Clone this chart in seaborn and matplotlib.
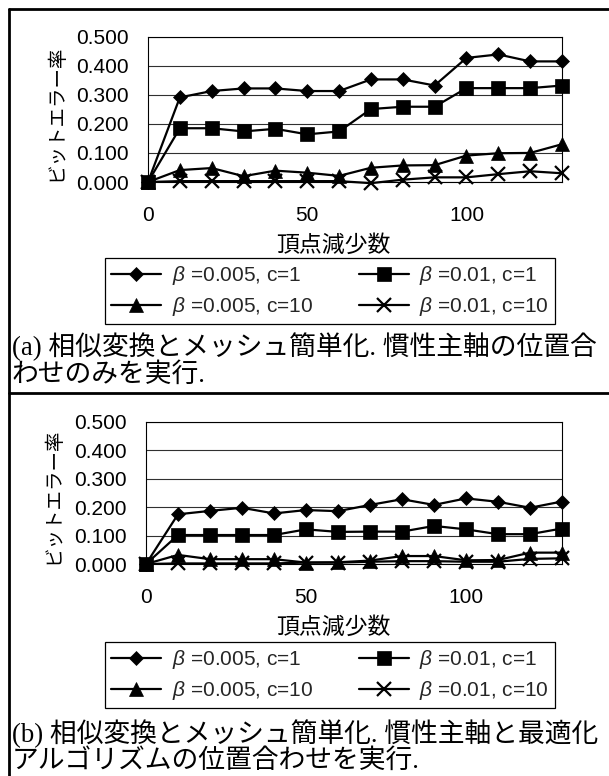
import matplotlib
matplotlib.use("Agg")
import matplotlib.pyplot as plt
import seaborn as sns
import pandas as pd
from matplotlib.lines import Line2D

# Number of removed vertices (x axis)
vertex_reduction = [0, 10, 20, 30, 40, 50, 60, 70, 80, 90, 100, 110, 120, 130]

series_labels = [r"$\beta$ =0.005, c=1", r"$\beta$ =0.01, c=1",
                 r"$\beta$ =0.005, c=10", r"$\beta$ =0.01, c=10"]
series_markers = ["D", "s", "^", "x"]

# (a) principal-axis alignment only
ber_a_b0005_c1 = [0.000, 0.291, 0.313, 0.322, 0.322, 0.313, 0.313, 0.353, 0.353, 0.332, 0.427, 0.439, 0.415, 0.415]
ber_a_b001_c1 = [0.000, 0.185, 0.185, 0.174, 0.183, 0.164, 0.174, 0.251, 0.259, 0.259, 0.323, 0.323, 0.323, 0.332]
ber_a_b0005_c10 = [0.000, 0.041, 0.048, 0.020, 0.039, 0.032, 0.021, 0.049, 0.057, 0.058, 0.091, 0.099, 0.100, 0.130]
ber_a_b001_c10 = [0.000, 0.003, 0.003, 0.003, 0.003, 0.003, 0.003, -0.004, 0.008, 0.016, 0.016, 0.027, 0.037, 0.030]

# (b) principal-axis + optimisation alignment
ber_b_b0005_c1 = [0.000, 0.175, 0.187, 0.198, 0.178, 0.190, 0.186, 0.208, 0.228, 0.208, 0.231, 0.219, 0.198, 0.220]
ber_b_b001_c1 = [0.000, 0.102, 0.102, 0.102, 0.102, 0.122, 0.113, 0.114, 0.114, 0.134, 0.122, 0.105, 0.105, 0.125]
ber_b_b0005_c10 = [0.000, 0.032, 0.017, 0.017, 0.017, 0.005, 0.006, 0.012, 0.028, 0.028, 0.013, 0.014, 0.040, 0.040]
ber_b_b001_c10 = [0.000, 0.002, 0.002, 0.002, 0.002, 0.005, 0.005, 0.008, 0.010, 0.010, 0.008, 0.008, 0.018, 0.020]

y_ticks = [0.0, 0.1, 0.2, 0.3, 0.4, 0.5]
y_tick_labels = ["0.000", "0.100", "0.200", "0.300", "0.400", "0.500"]
x_ticks = [0, 50, 100]
x_tick_labels = ["0", "50", "100"]

y_label = "ビットエラー率"
x_label = "頂点減少数"
caption_a = ["(a) 相似変換とメッシュ簡単化. 慣性主軸の位置合", "わせのみを実行."]
caption_b = ["(b) 相似変換とメッシュ簡単化. 慣性主軸と最適化", "アルゴリズムの位置合わせを実行."]

sns.set_theme(style="white")
plt.rcParams["font.family"] = ["Liberation Sans", "Noto Sans CJK JP"]
plt.rcParams["mathtext.fontset"] = "custom"
plt.rcParams["mathtext.it"] = "Liberation Sans:italic"

W, H = 609, 776
fig = plt.figure(figsize=(W / 100, H / 100), dpi=100)

marker_sizes = {"D": 7.5, "s": 10.0, "^": 10.5, "x": 9.5}


def fx(px):
    return px / W


def fy(py):
    return 1 - py / H


def draw_panel(left, right, top, bottom, series, xlabel_top, legend_y, caption, cap_y):
    ax = fig.add_axes([fx(left), fy(bottom), fx(right - left), fy(top) - fy(bottom)])
    handles = []
    for values, marker, label in zip(series, series_markers, series_labels):
        df = pd.DataFrame({"x": vertex_reduction, "y": values})
        ms = marker_sizes[marker]
        mew = 1.6 if marker == "x" else 0.5
        sns.lineplot(data=df, x="x", y="y", ax=ax, color="black", linewidth=1.6,
                     marker=marker, markersize=ms, markeredgecolor="black",
                     markerfacecolor="black", markeredgewidth=mew,
                     legend=False, clip_on=False)
        handles.append(Line2D([], [], color="black", linewidth=1.6, marker=marker,
                              markersize=ms, markerfacecolor="black",
                              markeredgecolor="black", markeredgewidth=mew,
                              label=label))
    ax.set_xlim(0, 130)
    ax.set_ylim(0, 0.5)
    ax.set_yticks(y_ticks)
    ax.set_yticklabels(y_tick_labels)
    ax.set_xticks(x_ticks)
    ax.set_xticklabels(x_tick_labels)
    ax.tick_params(axis="both", length=0, labelsize=15, colors="black")
    ax.tick_params(axis="y", pad=14)
    ax.tick_params(axis="x", pad=17)
    ax.yaxis.grid(True, color="#303030", linewidth=0.8)
    ax.xaxis.grid(False)
    ax.set_axisbelow(True)
    for sp in ax.spines.values():
        sp.set_visible(True)
        sp.set_color("black")
        sp.set_linewidth(0.8)
    ax.set_ylabel(y_label, fontsize=14, color="black")
    ax.yaxis.set_label_coords(-0.200, 0.48)
    ax.set_xlabel(x_label, fontsize=16.5, color="black")
    ax.xaxis.set_label_coords((333 - left) / (right - left),
                              -(xlabel_top - bottom) / (bottom - top))

    order = [0, 2, 1, 3]
    leg = fig.legend([handles[i] for i in order], [series_labels[i] for i in order],
                     loc="center", bbox_to_anchor=(fx(330), fy(legend_y)), ncol=2,
                     fontsize=15, frameon=True, fancybox=False, framealpha=1,
                     edgecolor="black", handlelength=2.4, handletextpad=0.5,
                     columnspacing=2.2, borderpad=0.3, labelspacing=0.4,
                     numpoints=1)
    leg.get_frame().set_linewidth(0.9)

    for i, line_text in enumerate(caption):
        fig.text(fx(12), fy(cap_y[i]), line_text, fontsize=19.3, ha="left", va="center",
                 family=["Liberation Serif", "Noto Sans CJK JP"], color="black")
    return ax


draw_panel(148, 562, 36.7, 182, [ber_a_b0005_c1, ber_a_b001_c1, ber_a_b0005_c10, ber_a_b001_c10],
           234, 291, caption_a, [347, 375])
draw_panel(146, 562, 422, 564, [ber_b_b0005_c1, ber_b_b001_c1, ber_b_b0005_c10, ber_b_b001_c10],
           616, 675, caption_b, [734, 761])

# frame lines around the two panels
for (x0, y0, x1, y1) in [(9, 9, W, 9), (9, 9, 9, H), (9, 393, W, 393)]:
    fig.add_artist(Line2D([fx(x0), fx(x1)], [fy(y0), fy(y1)], color="black", linewidth=2.0,
                          transform=fig.transFigure))

fig.savefig("out.png", dpi=100, facecolor="white")
